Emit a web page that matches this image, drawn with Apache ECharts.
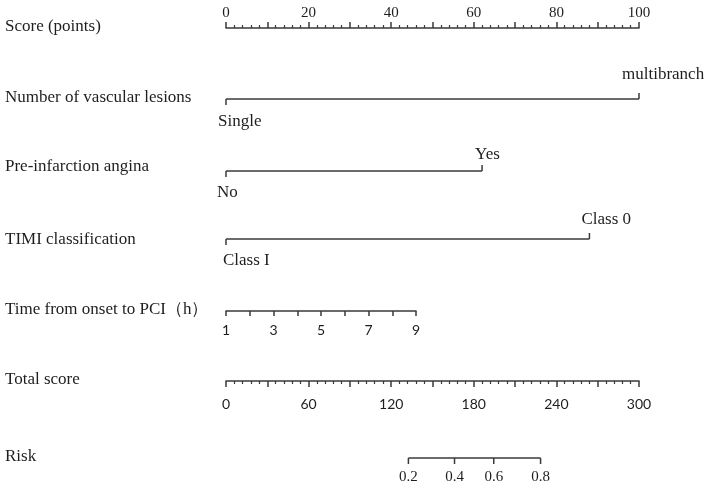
<!DOCTYPE html>
<html>
<head>
<meta charset="utf-8">
<script src="https://cdn.jsdelivr.net/npm/echarts@6/dist/echarts.min.js"></script>
<style>html,body{margin:0;padding:0;background:#fff}#c{width:711px;height:487px}</style>
</head>
<body>
<div id="c"></div>
<script>
// ---- data ----
const rowNames = ['Score (points)', 'Number of vascular lesions', 'Pre-infarction angina', 'TIMI classification', 'Time from onset to PCI（h）', 'Total score', 'Risk'];
const scoreTickLabels = [0, 20, 40, 60, 80, 100];
const vascularLevels = ['Single', 'multibranch'];
const vascularPoints = [0, 100];
const anginaLevels = ['No', 'Yes'];
const anginaPoints = [0, 62];
const timiLevels = ['Class I', 'Class 0'];
const timiPoints = [0, 88];
const timeTickLabels = [1, 3, 5, 7, 9];
const totalTickLabels = [0, 60, 120, 180, 240, 300];
const riskLabels = ['0.2', '0.4', '0.6', '0.8'];
const riskTotalPoints = [132.5, 166, 194.5, 228.5];

// ---- styles ----
const LINE = '#3a3a3a';
const TXT = '#1e1e1e';
const SERIF = '"Liberation Serif", "Times New Roman", serif';
const SANS = 'Lato, "Open Sans", sans-serif';
const ls = { color: LINE, width: 1.5 };

const chart = echarts.init(document.getElementById('c'), null, { renderer: 'canvas' });

function hiddenX(g, max) {
  return { gridIndex: g, type: 'value', min: 0, max: max, show: false };
}
function hiddenY(g) {
  return { gridIndex: g, type: 'value', min: 0, max: 1, show: false };
}

// dx: horizontal label offsets (style), dy: [below, above] vertical offsets (style)
function levelSeries(g, levels, points, dx, dyBelow, dyAbove) {
  return [
    {
      type: 'line', xAxisIndex: g, yAxisIndex: g, clip: false, silent: true,
      symbol: 'none', lineStyle: ls,
      data: points.map(p => [p, 0])
    },
    {
      type: 'custom', xAxisIndex: g, yAxisIndex: g, clip: false, silent: true,
      data: points.map((p, i) => [p, 0, i]),
      renderItem: function (params, api) {
        const i = params.dataIndex;
        const pt = api.coord([api.value(0), 0]);
        const dir = i % 2 === 0 ? 1 : -1;
        return {
          type: 'group',
          children: [
            { type: 'line', shape: { x1: pt[0], y1: pt[1], x2: pt[0], y2: pt[1] + dir * 6 }, style: { stroke: LINE, lineWidth: 1.5 } },
            { type: 'text', style: { text: levels[i], x: pt[0] + dx[i], y: pt[1] + (dir > 0 ? dyBelow : dyAbove), align: 'left', verticalAlign: 'middle', fontSize: 17, fontFamily: SERIF, fill: TXT } }
          ]
        };
      }
    }
  ];
}

const rowLabelY = [25, 96, 165, 238, 308, 378, 455];

const option = {
  animation: false,
  backgroundColor: '#fff',
  grid: [
    { left: 226, right: 72, top: 28, height: 10, outerBoundsMode: 'none' },
    { left: 226, right: 72, top: 89, height: 10, outerBoundsMode: 'none' },
    { left: 226, right: 72, top: 161, height: 10, outerBoundsMode: 'none' },
    { left: 226, right: 72, top: 229, height: 10, outerBoundsMode: 'none' },
    { left: 226, right: 295, top: 301, height: 10, outerBoundsMode: 'none' },
    { left: 226, right: 72, top: 371, height: 10, outerBoundsMode: 'none' },
    { left: 226, right: 72, top: 448, height: 10, outerBoundsMode: 'none' }
  ],
  xAxis: [
    {
      gridIndex: 0, type: 'value', position: 'top', min: 0, max: 100, interval: 10,
      axisLine: { show: true, onZero: false, lineStyle: ls },
      axisTick: { show: true, length: 6, lineStyle: ls },
      minorTick: { show: true, splitNumber: 5, length: 3, lineStyle: { color: LINE, width: 1.2 } },
      splitLine: { show: false }, minorSplitLine: { show: false },
      axisLabel: { margin: 7, fontSize: 15, fontFamily: SERIF, color: TXT,
        formatter: v => scoreTickLabels.includes(v) ? String(v) : '' }
    },
    hiddenX(1, 100),
    hiddenX(2, 100),
    hiddenX(3, 100),
    {
      gridIndex: 4, type: 'value', position: 'bottom', min: 1, max: 9, interval: 1,
      axisLine: { show: true, onZero: false, lineStyle: ls },
      axisTick: { show: true, length: 5, lineStyle: ls },
      splitLine: { show: false },
      axisLabel: { margin: 12, fontSize: 14, fontFamily: SANS, color: TXT,
        formatter: v => timeTickLabels.includes(v) ? String(v) : '' }
    },
    {
      gridIndex: 5, type: 'value', position: 'bottom', min: 0, max: 300, interval: 30,
      axisLine: { show: true, onZero: false, lineStyle: ls },
      axisTick: { show: true, length: 6, lineStyle: ls },
      minorTick: { show: true, splitNumber: 5, length: 3, lineStyle: { color: LINE, width: 1.2 } },
      splitLine: { show: false }, minorSplitLine: { show: false },
      axisLabel: { margin: 16, fontSize: 14, fontFamily: SANS, color: TXT,
        formatter: v => totalTickLabels.includes(v) ? String(v) : '' }
    },
    hiddenX(6, 300)
  ],
  yAxis: [0, 1, 2, 3, 4, 5, 6].map(hiddenY),
  graphic: rowNames.map((name, i) => ({
    type: 'text', left: 5, top: rowLabelY[i] - 7,
    style: { text: name, fontSize: 17, fontFamily: SERIF, fill: TXT }
  })),
  series: [].concat(
    levelSeries(1, vascularLevels, vascularPoints, [-8, -17], 23, -24),
    levelSeries(2, anginaLevels, anginaPoints, [-9, -7], 22, -16),
    levelSeries(3, timiLevels, timiPoints, [-3, -8], 22, -19),
    [
      {
        type: 'line', xAxisIndex: 6, yAxisIndex: 6, clip: false, silent: true,
        symbol: 'none', lineStyle: ls,
        data: [[riskTotalPoints[0], 0], [riskTotalPoints[riskTotalPoints.length - 1], 0]]
      },
      {
        type: 'custom', xAxisIndex: 6, yAxisIndex: 6, clip: false, silent: true,
        data: riskTotalPoints.map((p, i) => [p, 0, i]),
        renderItem: function (params, api) {
          const i = params.dataIndex;
          const pt = api.coord([api.value(0), 0]);
          return {
            type: 'group',
            children: [
              { type: 'line', shape: { x1: pt[0], y1: pt[1], x2: pt[0], y2: pt[1] + 6 }, style: { stroke: LINE, lineWidth: 1.5 } },
              { type: 'text', style: { text: riskLabels[i], x: pt[0], y: pt[1] + 19, align: 'center', verticalAlign: 'middle', fontSize: 15, fontFamily: SERIF, fill: TXT } }
            ]
          };
        }
      }
    ]
  )
};
chart.setOption(option);
</script>
</body>
</html>
